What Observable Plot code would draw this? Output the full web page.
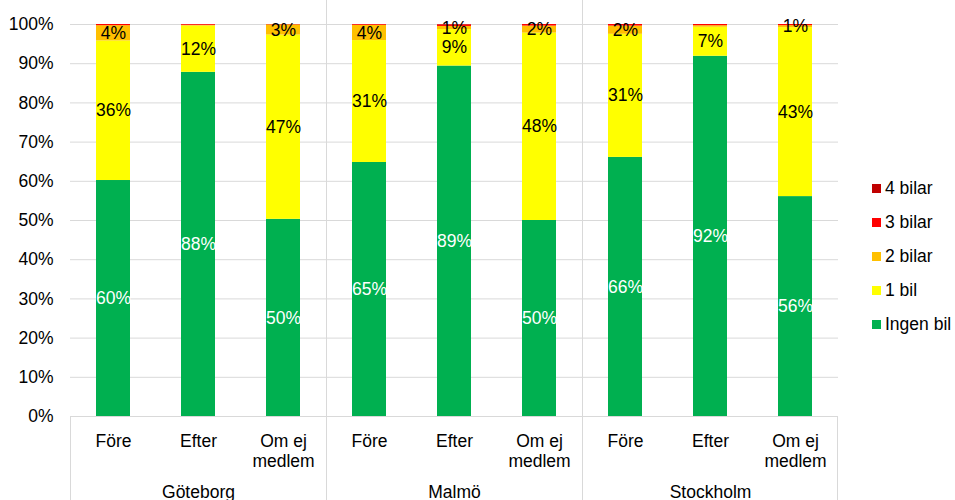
<!DOCTYPE html>
<html>
<head>
<meta charset="utf-8">
<script src="https://cdn.jsdelivr.net/npm/d3@7"></script>
<script src="https://cdn.jsdelivr.net/npm/@observablehq/plot@0.6"></script>
<style>
  html, body { margin: 0; padding: 0; background: #fff; }
  #wrap { position: relative; width: 955px; height: 500px; font-family: "Liberation Sans", Arial, sans-serif; }
  #legend { position: absolute; left: 872px; top: 172px; font-size: 17.5px; color: #000; }
  .li { display: flex; align-items: center; height: 33.8px; white-space: nowrap; }
  .sw { width: 9px; height: 9px; margin-right: 4px; }
</style>
</head>
<body>
<div id="wrap"><div id="chart"></div><div id="legend"></div></div>
<script>
const cities = ["Göteborg", "Malmö", "Stockholm"];
const periods = ["Före", "Efter", "Om ej medlem"];
const periodLabels = ["Före", "Efter", "Om ej\nmedlem"];
const series = ["Ingen bil", "1 bil", "2 bilar", "3 bilar", "4 bilar"];
const colors = ["#00B050", "#FFFF00", "#FFC000", "#FF0000", "#C00000"];
// values per bar: Göteborg (Före, Efter, Om ej), Malmö (...), Stockholm (...)
const ingenBil  = [60.2, 87.8, 50.3, 64.8, 89.4, 50.0, 66.1, 91.9, 56.1];
const ettBil    = [35.6, 11.8, 47.0, 31.1,  9.3, 47.8, 31.4,  7.4, 43.1];
const tvaBilar  = [ 3.9,  0.2,  2.6,  3.9,  0.8,  1.8,  2.1,  0.4,  0.5];
const treBilar  = [ 0.3,  0.2,  0.1,  0.2,  0.4,  0.4,  0.4,  0.3,  0.3];
const fyraBilar = [ 0.0,  0.0,  0.0,  0.0,  0.1,  0.0,  0.0,  0.0,  0.0];
const yTicks = [0, 10, 20, 30, 40, 50, 60, 70, 80, 90, 100];

const seriesValues = [ingenBil, ettBil, tvaBilar, treBilar, fyraBilar];
const data = series.flatMap((s, si) => seriesValues[si].map((v, i) => ({
  city: cities[Math.floor(i / 3)],
  period: periods[i % 3],
  series: s,
  value: v
})));
const fmt = v => Math.round(v) >= 1 ? Math.round(v) + "%" : "";
const periodLabel = p => periodLabels[periods.indexOf(p)];

const W = 955, H = 500;
const plot = Plot.plot({
  width: W, height: H,
  marginTop: 24, marginBottom: 84, marginLeft: 70, marginRight: 117,
  style: { fontFamily: "Liberation Sans, Arial, sans-serif", fontSize: "17.5px", color: "#000", background: "#fff" },
  fx: { domain: cities, padding: 0 },
  x: { domain: periods, paddingInner: 0.6, paddingOuter: 0.3 },
  y: { domain: [0, 100] },
  color: { domain: series, range: colors },
  marks: [
    Plot.gridY(yTicks, { stroke: "#d9d9d9", strokeOpacity: 1 }),
    Plot.barY(data, { fx: "city", x: "period", y: "value", fill: "series" }),
    Plot.text(data, Plot.stackY({ fx: "city", x: "period", y: "value", z: "series",
      text: d => d.series === "Ingen bil" ? fmt(d.value) : "", fill: "white", fontSize: 17.5 })),
    Plot.text(data, Plot.stackY({ fx: "city", x: "period", y: "value", z: "series",
      text: d => d.series !== "Ingen bil" ? fmt(d.value) : "", fill: "black", fontSize: 17.5 })),
    Plot.axisY({ ticks: yTicks, tickFormat: d => d + "%", tickSize: 0, tickPadding: 17, label: null }),
    Plot.axisX({ tickSize: 0, tickPadding: 16, tickFormat: periodLabel, lineHeight: 1.15, label: null }),
    Plot.axisFx({ anchor: "bottom", tickSize: 0, tickPadding: 69, label: null })
  ]
});
document.getElementById("chart").appendChild(plot);

// category separators from the fx scale
const fxs = plot.scale("fx");
const fxScale = d3.scaleBand(fxs.domain, fxs.range)
  .paddingInner(fxs.paddingInner || 0).paddingOuter(fxs.paddingOuter || 0).align(fxs.align ?? 0.5);
const y0 = plot.scale("y").apply ? plot.scale("y").apply(0) : H - 84;
const svg = d3.select(plot);
const g = svg.append("g").attr("stroke", "#d9d9d9").attr("stroke-width", 1);
cities.forEach((c, i) => {
  const xl = Math.round(fxScale(c)) + 0.5;
  g.append("line").attr("x1", xl).attr("x2", xl).attr("y1", i === 0 ? y0 : 0).attr("y2", H);
});
const xr = Math.round(fxScale(cities[cities.length - 1]) + fxScale.bandwidth()) - 0.5;
g.append("line").attr("x1", xr).attr("x2", xr).attr("y1", y0).attr("y2", H);

// legend
const legend = d3.select("#legend");
series.slice().reverse().forEach(s => {
  const it = legend.append("div").attr("class", "li");
  it.append("div").attr("class", "sw").style("background", colors[series.indexOf(s)]);
  it.append("span").text(s);
});
</script>
</body>
</html>
